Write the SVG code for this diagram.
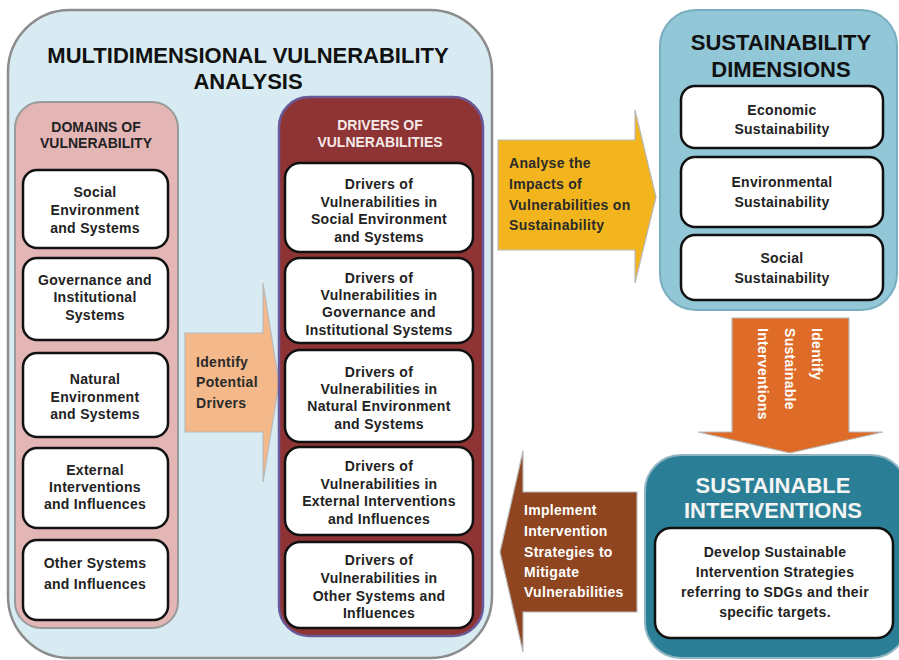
<svg xmlns="http://www.w3.org/2000/svg" width="899" height="660" viewBox="0 0 899 660">
  <style>
    text { font-family: "Liberation Sans", Arial, sans-serif; font-weight: bold; }
    .title { font-size: 22px; fill: #111; text-anchor: middle; }
    .titlew { font-size: 22px; fill: #f4f4f4; text-anchor: middle; }
    .hdr { font-size: 14px; text-anchor: middle; }
    .box { fill: #ffffff; stroke: #111; stroke-width: 2.5; }
    .bt { font-size: 14px; fill: #222; text-anchor: middle; letter-spacing: 0.3px; }
    .at { font-size: 14px; letter-spacing: 0.3px; }
    .arrow { stroke: #b9b9b9; stroke-width: 1.2; }
  </style>

  <!-- outer analysis container -->
  <g id="analysis">
    <rect x="8" y="10" width="484" height="648" rx="62" fill="#d8ebf2" stroke="#8c8c8c" stroke-width="2.5"/>
    <text class="title" x="248" y="63">MULTIDIMENSIONAL VULNERABILITY</text>
    <text class="title" x="248" y="89">ANALYSIS</text>
  </g>

  <!-- connectors (block arrows) -->
  <g id="connectors">
    <g id="arrow-identify-drivers">
      <path class="arrow" d="M185,333 H263 V283 L279,383 L263,482 V432 H185 Z" fill="#f4b98a"/>
      <text class="at" fill="#2a2a2a" x="196" y="367">Identify</text>
      <text class="at" fill="#2a2a2a" x="196" y="387">Potential</text>
      <text class="at" fill="#2a2a2a" x="196" y="408">Drivers</text>
    </g>
    <g id="arrow-analyse">
      <path class="arrow" d="M498,140 H635 V110 L656,197 L635,283 V250 H498 Z" fill="#f2b51e"/>
      <text class="at" fill="#2a2a2a" x="509" y="168">Analyse the</text>
      <text class="at" fill="#2a2a2a" x="509" y="189">Impacts of</text>
      <text class="at" fill="#2a2a2a" x="509" y="210">Vulnerabilities on</text>
      <text class="at" fill="#2a2a2a" x="509" y="230">Sustainability</text>
    </g>
    <g id="arrow-identify-interventions">
      <path class="arrow" d="M732,318 H849 V432 H883 L790,453 L698,432 H732 Z" fill="#de6b27"/>
      <g transform="translate(812,328) rotate(90)">
        <text class="at" fill="#ffffff" x="0" y="0">Identify</text>
        <text class="at" fill="#ffffff" x="0" y="27">Sustainable</text>
        <text class="at" fill="#ffffff" x="0" y="54">Interventions</text>
      </g>
    </g>
    <g id="arrow-implement">
      <path class="arrow" d="M637,492 V612 H523 V652 L500,552 L523,451 V492 Z" fill="#8e4520"/>
      <text class="at" fill="#ffffff" x="524" y="515">Implement</text>
      <text class="at" fill="#ffffff" x="524" y="536">Intervention</text>
      <text class="at" fill="#ffffff" x="524" y="557">Strategies to</text>
      <text class="at" fill="#ffffff" x="524" y="577">Mitigate</text>
      <text class="at" fill="#ffffff" x="524" y="597">Vulnerabilities</text>
    </g>
  </g>

  <!-- domains of vulnerability -->
  <g id="domains">
    <rect x="15" y="102" width="163" height="526" rx="26" fill="#e4b5b5" stroke="#9a9a9a" stroke-width="2"/>
    <text class="hdr" fill="#222" x="96" y="132">DOMAINS OF</text>
    <text class="hdr" fill="#222" x="96" y="148">VULNERABILITY</text>
    <g id="domain-social">
      <rect class="box" x="23" y="170" width="145" height="78" rx="14"/>
      <text class="bt" x="95" y="197">Social</text>
      <text class="bt" x="95" y="215">Environment</text>
      <text class="bt" x="95" y="233">and Systems</text>
    </g>
    <g id="domain-governance">
      <rect class="box" x="23" y="258" width="145" height="82" rx="14"/>
      <text class="bt" x="95" y="285">Governance and</text>
      <text class="bt" x="95" y="302">Institutional</text>
      <text class="bt" x="95" y="320">Systems</text>
    </g>
    <g id="domain-natural">
      <rect class="box" x="23" y="353" width="145" height="84" rx="14"/>
      <text class="bt" x="95" y="384">Natural</text>
      <text class="bt" x="95" y="402">Environment</text>
      <text class="bt" x="95" y="419">and Systems</text>
    </g>
    <g id="domain-external">
      <rect class="box" x="23" y="448" width="145" height="80" rx="14"/>
      <text class="bt" x="95" y="475">External</text>
      <text class="bt" x="95" y="492">Interventions</text>
      <text class="bt" x="95" y="509">and Influences</text>
    </g>
    <g id="domain-other">
      <rect class="box" x="23" y="540" width="145" height="80" rx="14"/>
      <text class="bt" x="95" y="568">Other Systems</text>
      <text class="bt" x="95" y="589">and Influences</text>
    </g>
  </g>

  <!-- drivers of vulnerabilities -->
  <g id="drivers">
    <rect x="279" y="97" width="204" height="539" rx="30" fill="#8e3434" stroke="#6a5a9a" stroke-width="2.5"/>
    <text class="hdr" fill="#f5e8e8" x="380" y="130">DRIVERS OF</text>
    <text class="hdr" fill="#f5e8e8" x="380" y="147">VULNERABILITIES</text>
    <g id="driver-social">
      <rect class="box" x="285" y="163" width="188" height="89" rx="15"/>
      <text class="bt" x="379" y="189">Drivers of</text>
      <text class="bt" x="379" y="207">Vulnerabilities in</text>
      <text class="bt" x="379" y="224">Social Environment</text>
      <text class="bt" x="379" y="242">and Systems</text>
    </g>
    <g id="driver-governance">
      <rect class="box" x="285" y="258" width="188" height="85" rx="15"/>
      <text class="bt" x="379" y="283">Drivers of</text>
      <text class="bt" x="379" y="300">Vulnerabilities in</text>
      <text class="bt" x="379" y="317">Governance and</text>
      <text class="bt" x="379" y="335">Institutional Systems</text>
    </g>
    <g id="driver-natural">
      <rect class="box" x="285" y="350" width="188" height="92" rx="15"/>
      <text class="bt" x="379" y="377">Drivers of</text>
      <text class="bt" x="379" y="394">Vulnerabilities in</text>
      <text class="bt" x="379" y="411">Natural Environment</text>
      <text class="bt" x="379" y="429">and Systems</text>
    </g>
    <g id="driver-external">
      <rect class="box" x="285" y="447" width="188" height="88" rx="15"/>
      <text class="bt" x="379" y="471">Drivers of</text>
      <text class="bt" x="379" y="489">Vulnerabilities in</text>
      <text class="bt" x="379" y="506">External Interventions</text>
      <text class="bt" x="379" y="524">and Influences</text>
    </g>
    <g id="driver-other">
      <rect class="box" x="285" y="542" width="188" height="86" rx="15"/>
      <text class="bt" x="379" y="565">Drivers of</text>
      <text class="bt" x="379" y="583">Vulnerabilities in</text>
      <text class="bt" x="379" y="601">Other Systems and</text>
      <text class="bt" x="379" y="618">Influences</text>
    </g>
  </g>

  <!-- sustainability dimensions -->
  <g id="dimensions">
    <rect x="660" y="10" width="237" height="300" rx="36" fill="#92c7d7" stroke="#78aebf" stroke-width="2"/>
    <text class="title" x="781" y="50">SUSTAINABILITY</text>
    <text class="title" x="781" y="77">DIMENSIONS</text>
    <g id="dim-economic">
      <rect class="box" x="681" y="86" width="202" height="62" rx="14"/>
      <text class="bt" x="782" y="115">Economic</text>
      <text class="bt" x="782" y="134">Sustainability</text>
    </g>
    <g id="dim-environmental">
      <rect class="box" x="681" y="157" width="202" height="70" rx="14"/>
      <text class="bt" x="782" y="187">Environmental</text>
      <text class="bt" x="782" y="207">Sustainability</text>
    </g>
    <g id="dim-social">
      <rect class="box" x="681" y="235" width="202" height="65" rx="14"/>
      <text class="bt" x="782" y="263">Social</text>
      <text class="bt" x="782" y="283">Sustainability</text>
    </g>
  </g>

  <!-- sustainable interventions -->
  <g id="interventions">
    <rect x="645" y="455" width="262" height="203" rx="36" fill="#2a7f96" stroke="#8fb5c2" stroke-width="2"/>
    <text class="titlew" x="773" y="493">SUSTAINABLE</text>
    <text class="titlew" x="773" y="518">INTERVENTIONS</text>
    <g id="develop-strategies">
      <rect class="box" x="655" y="528" width="238" height="110" rx="16"/>
      <text class="bt" x="775" y="557">Develop Sustainable</text>
      <text class="bt" x="775" y="577">Intervention Strategies</text>
      <text class="bt" x="775" y="597">referring to SDGs and their</text>
      <text class="bt" x="775" y="617">specific targets.</text>
    </g>
  </g>
</svg>
